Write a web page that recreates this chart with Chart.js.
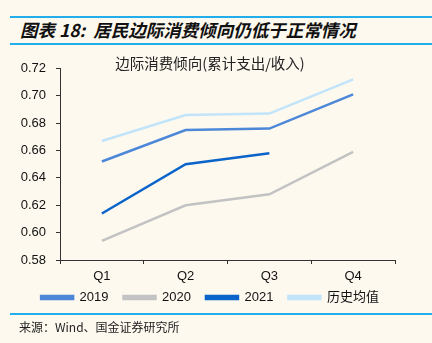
<!DOCTYPE html>
<html lang="zh">
<head>
    <meta charset="UTF-8">
    <title>居民边际消费倾向</title>
    <script src="https://cdnjs.cloudflare.com/ajax/libs/Chart.js/4.4.1/chart.umd.js"></script>
    <style>
        body {
            margin: 0;
            width: 432px;
            height: 343px;
            background: #fdf9ef;
            position: relative;
            overflow: hidden;
            font-family: "Liberation Sans", Arial, sans-serif;
        }
        .rule {
            position: absolute;
            left: 10px;
            right: 0;
            height: 2px;
            background: #22aeea;
        }
        .header {
            position: absolute;
            left: 20px;
            top: 20px;
            font-family: "Noto Sans CJK SC", sans-serif;
            font-size: 17.5px;
            font-weight: bold;
            font-style: italic;
            color: #111;
            line-height: 20px;
            white-space: pre;
        }
        .chart-box {
            position: absolute;
            left: 0;
            top: 50px;
            width: 432px;
            height: 264px;
        }
        .source {
            position: absolute;
            left: 19px;
            top: 318px;
            font-family: "Noto Sans CJK SC", sans-serif;
            font-size: 12px;
            color: #222;
        }
    </style>
</head>
<body>
    <div class="rule" style="top:16px"></div>
    <div class="header">图表 18:  居民边际消费倾向仍低于正常情况</div>
    <div class="rule" style="top:43px"></div>
    <div class="chart-box">
        <canvas id="mpcChart"></canvas>
    </div>
    <div class="rule" style="top:313px"></div>
    <div class="source">来源：Wind、国金证券研究所</div>

    <script>
        // values
        const quarters = ['Q1', 'Q2', 'Q3', 'Q4'];
        const mpc2019 = [0.652, 0.675, 0.676, 0.701];
        const mpc2020 = [0.594, 0.620, 0.628, 0.659];
        const mpc2021 = [0.614, 0.650, 0.658, null];
        const mpcHistory = [0.667, 0.686, 0.687, 0.712];

        const seriesColors = {
            y2019: '#4d88d8',
            y2020: '#c3c3c3',
            y2021: '#0a64c9',
            history: '#c2e4fa'
        };

        function lineSet(label, data, color) {
            return {
                label: label,
                data: data,
                borderColor: color,
                backgroundColor: color,
                borderWidth: 2.5,
                pointRadius: 0,
                tension: 0,
                spanGaps: false
            };
        }

        const axisColor = '#333';

        // axis boxes are squeezed for the layout; let tick labels draw outside their boxes
        const noLabelClip = {
            id: 'noLabelClip',
            beforeDraw(chart) {
                chart.scales.x._computeLabelArea = () => undefined;
                chart.scales.y._computeLabelArea = () => undefined;
            }
        };

        new Chart(document.getElementById('mpcChart'), {
            type: 'line',
            data: {
                labels: quarters,
                datasets: [
                    lineSet('2019', mpc2019, seriesColors.y2019),
                    lineSet('2020', mpc2020, seriesColors.y2020),
                    lineSet('2021', mpc2021, seriesColors.y2021),
                    lineSet('历史均值', mpcHistory, seriesColors.history)
                ]
            },
            plugins: [noLabelClip],
            options: {
                responsive: true,
                maintainAspectRatio: false,
                animation: false,
                layout: {
                    padding: { left: 25, right: 37, top: 0, bottom: 0 }
                },
                plugins: {
                    title: {
                        display: true,
                        text: '边际消费倾向(累计支出/收入)',
                        color: '#222',
                        font: { family: '"Noto Sans CJK SC", sans-serif', size: 14.5, weight: 'normal' },
                        padding: { top: 5, bottom: -4 }
                    },
                    legend: {
                        position: 'bottom',
                        labels: {
                            boxWidth: 32,
                            boxHeight: 3,
                            padding: 15,
                            color: '#111',
                            font: { family: '"Liberation Sans", "Noto Sans CJK SC", sans-serif', size: 13 }
                        }
                    },
                    tooltip: { enabled: false }
                },
                scales: {
                    x: {
                        offset: true,
                        border: { color: axisColor, width: 1 },
                        grid: {
                            offset: true,
                            drawOnChartArea: false,
                            drawTicks: true,
                            tickLength: 4,
                            color: axisColor
                        },
                        ticks: {
                            color: '#111',
                            padding: 5,
                            font: { family: '"Liberation Sans", Arial, sans-serif', size: 13 }
                        },
                        afterFit: scale => { scale.height = 16; }
                    },
                    y: {
                        min: 0.58,
                        max: 0.72,
                        border: { color: axisColor, width: 1 },
                        grid: {
                            drawOnChartArea: false,
                            drawTicks: true,
                            tickLength: 4,
                            color: axisColor
                        },
                        ticks: {
                            stepSize: 0.02,
                            color: '#111',
                            padding: 10,
                            font: { family: '"Liberation Sans", Arial, sans-serif', size: 13 },
                            callback: value => value.toFixed(2)
                        },
                        afterFit: scale => { scale.width = 35; }
                    }
                }
            }
        });
    </script>
</body>
</html>
